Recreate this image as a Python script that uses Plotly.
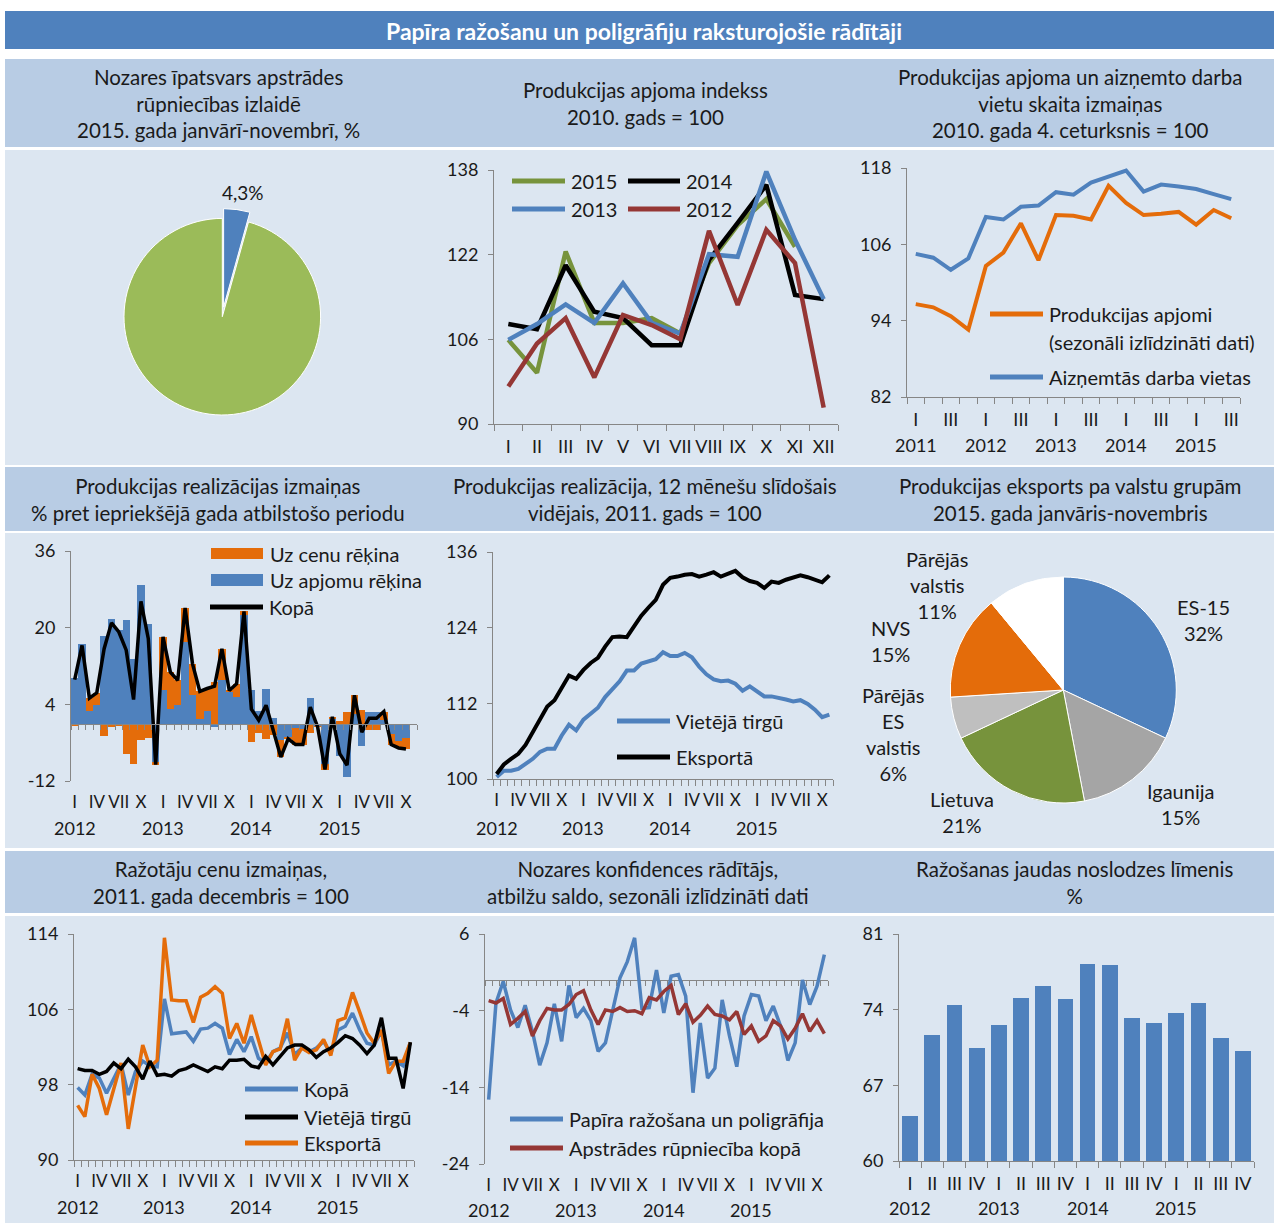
import plotly.graph_objects as go

W, H = 1274, 1223
def PX(x): return x / W
def PY(y): return 1 - y / H

FONT = "Lato"
TXT = "#1a1a1a"
AXC = "#868686"
BLUE = "#4F81BD"
GREEN_L = "#9BBB59"
GREEN_D = "#77933C"
RED_D = "#953735"
ORANGE = "#E46C0A"
BLACK = "#000000"

# ---------------- DATA ----------------
# Panel 1: share in manufacturing output
share_labels = ["Papīra ražošana un poligrāfija", "Pārējā apstrādes rūpniecība"]
share_values = [4.3, 95.7]

# Panel 2: production volume index by month
months12 = ["I", "II", "III", "IV", "V", "VI", "VII", "VIII", "IX", "X", "XI", "XII"]
idx_2015 = [105.9, 99.7, 122.6, 109.1, 109.1, 110.0, 107.1, 120.4, 127.6, 132.5, 123.5]
idx_2014 = [108.9, 107.9, 120.0, 111.2, 110.0, 104.9, 104.9, 121.0, 128.0, 135.2, 114.4, 113.6]
idx_2013 = [105.9, 108.9, 112.6, 109.1, 116.6, 109.1, 107.1, 122.1, 121.6, 137.7, 124.8, 113.6]
idx_2012 = [97.1, 105.2, 110.0, 98.8, 110.6, 108.7, 106.0, 126.5, 112.5, 126.7, 120.4, 93.1]
p2_ticks = [90, 106, 122, 138]

# Panel 3: quarterly production and employment (2011 Q1 - 2015 Q3)
quarters4 = ["I", "II", "III", "IV"]
q_years = [2011, 2012, 2013, 2014, 2015]
prod_sa = [96.6, 96.1, 94.7, 92.6, 102.6, 104.7, 109.3, 103.5, 110.6, 110.5, 109.9, 115.2,
           112.5, 110.6, 110.8, 111.1, 109.1, 111.4, 110.1]
jobs = [104.5, 103.9, 102.0, 103.8, 110.3, 109.9, 111.9, 112.1, 114.2, 113.8, 115.7, 116.6,
        117.6, 114.3, 115.4, 115.1, 114.7, 113.9, 113.1]
p3_ticks = [82, 94, 106, 118]

# Monthly series 2012 I - 2015 XI
m_years = [2012, 2013, 2014, 2015]
# Panel 4: sales change, % y/y
sales_total = [9.15, 16.3, 5.3, 6.4, 15.6, 21.0, 19.1, 15.3, 5.0, 25.5, 17.7, -8.6,
               18.1, 10.7, 9.0, 24.1, 12.5, 6.7, 7.3, 7.8, 15.6, 6.9, 8.3, 23.4,
               3.0, 0.7, 3.8, -1.4, -7.0, -3.2, -4.4, -4.4, 3.4, -0.7, -9.6, 1.4,
               -6.3, -8.7, 5.9, -1.8, 1.1, 1.1, 2.5, -4.4, -5.1, -5.3, None]
sales_volume = [9.6, 16.5, 2.7, 3.9, 18.2, 21.8, 19.6, 21.6, 13.5, 29.0, 20.8, -8.0,
                7.0, 3.1, 3.9, 17.0, 5.9, 1.0, 2.7, -0.8, 9.0, 6.6, 5.5, 22.6,
                6.9, 2.7, 7.1, 1.1, -3.5, -2.8, -1.0, -1.2, 5.3, -0.5, -8.5, 1.0,
                -6.8, -11.2, 2.0, -4.7, 2.4, 2.5, 0.7, -2.2, -3.7, -3.0, None]
sales_price = [-0.45, -0.2, 2.6, 2.5, -2.6, -0.8, -0.5, -6.3, -8.5, -3.5, -3.1, -0.6,
               11.1, 7.6, 5.1, 7.1, 6.6, 5.7, 4.6, 8.6, 6.6, 0.3, 2.8, 0.8,
               -3.9, -2.0, -3.3, -2.5, -3.5, -0.4, -3.4, -3.2, -1.9, -0.2, -1.1, 0.4,
               0.5, 2.5, 3.9, 2.9, -1.3, -1.4, 1.8, -2.2, -1.4, -2.3, None]
p4_ticks = [-12, 4, 20, 36]

# Panel 5: 12-month moving average of sales, 2011 = 100
ma_domestic = [100.3, 101.3, 101.3, 101.6, 102.4, 103.2, 104.3, 104.8, 104.8, 106.9, 108.6, 107.7,
               109.4, 110.4, 111.3, 113.0, 114.2, 115.5, 117.2, 117.2, 118.3, 118.7, 119.0, 120.1,
               119.5, 119.5, 120.0, 119.3, 117.8, 116.6, 115.8, 115.5, 115.6, 115.1, 114.0, 114.7,
               113.9, 113.1, 113.1, 112.9, 112.6, 112.3, 112.5, 111.9, 111.0, 109.8, 110.2]
ma_export = [100.8, 102.3, 103.2, 104.0, 105.4, 107.5, 109.4, 111.5, 112.5, 114.6, 116.4, 115.9,
             117.3, 118.4, 119.2, 121.0, 122.5, 122.6, 122.5, 124.2, 125.9, 127.2, 128.4, 130.8,
             131.9, 132.1, 132.4, 132.5, 132.1, 132.4, 132.8, 132.1, 132.6, 133.0, 132.0, 131.4,
             131.1, 130.3, 131.3, 131.1, 131.6, 132.0, 132.3, 132.0, 131.6, 131.2, 132.3]
p5_ticks = [100, 112, 124, 136]

# Panel 6: exports by country group, 2015 Jan-Nov
exp_labels = ["ES-15", "Igaunija", "Lietuva", "Pārējās<br>ES<br>valstis", "NVS", "Pārējās<br>valstis"]
exp_values = [32, 15, 21, 6, 15, 11]

# Panel 7: producer prices, Dec 2011 = 100
pp_total = [97.7, 96.9, 99.1, 98.7, 97.1, 98.7, 100.2, 96.9, 99.4, 100.5, 100.0, 99.9,
            107.1, 103.4, 103.5, 103.6, 102.6, 103.9, 104.0, 104.5, 104.0, 101.2, 102.8, 101.5,
            103.1, 100.8, 100.3, 101.5, 101.9, 103.5, 101.2, 101.9, 101.5, 101.9, 102.6, 101.3,
            103.8, 104.2, 105.6, 103.8, 102.4, 102.2, 103.7, 100.1, 100.5, 100.0, 102.5]
pp_domestic = [99.7, 99.5, 99.5, 99.1, 99.4, 100.3, 99.7, 100.7, 99.9, 98.6, 100.5, 99.0,
               99.1, 98.9, 99.5, 99.7, 100.1, 99.7, 99.4, 99.9, 99.7, 100.6, 100.6, 100.7,
               100.0, 99.8, 101.0, 100.1, 101.0, 101.9, 102.2, 102.2, 101.7, 100.9, 101.5, 101.9,
               102.5, 103.2, 102.9, 102.2, 101.3, 102.2, 105.1, 100.8, 100.8, 97.6, 102.5]
pp_export = [95.8, 94.6, 99.1, 97.6, 94.8, 97.6, 100.3, 93.3, 98.0, 102.2, 99.9, 100.6,
             113.6, 107.0, 106.9, 106.9, 104.6, 107.3, 107.7, 108.4, 107.7, 102.9, 104.5, 102.4,
             105.4, 102.9, 100.1, 101.5, 101.8, 105.0, 100.6, 101.9, 101.4, 101.7, 102.8, 101.1,
             104.8, 105.1, 107.8, 105.7, 103.5, 102.4, 103.8, 99.2, 100.5, 100.5, 102.5]
p7_ticks = [90, 98, 106, 114]

# Panel 8: confidence indicator, balance
conf_paper = [-15.6, -3.0, -0.2, -3.9, -6.2, -3.3, -6.7, -11.1, -8.2, -3.1, -8.0, -0.7,
              -4.9, -3.7, -5.3, -9.3, -8.2, -4.1, 0.3, 2.4, 5.5, -3.7, -3.6, 1.3,
              -4.3, 0.5, 0.7, -2.1, -14.7, -5.6, -12.8, -11.5, -2.6, -7.3, -11.3, -4.7,
              -1.9, -2.1, -5.3, -3.4, -6.0, -10.5, -8.2, 0.0, -3.2, -0.8, 3.3]
conf_manuf = [-2.7, -3.0, -2.4, -5.8, -5.0, -4.1, -7.3, -5.3, -3.7, -3.9, -3.9, -3.2,
              -1.9, -1.4, -3.9, -5.8, -3.9, -4.1, -3.6, -4.1, -4.0, -4.4, -2.3, -2.6,
              -1.5, -0.7, -4.5, -3.1, -5.5, -4.6, -3.4, -4.5, -4.7, -5.2, -4.1, -7.1,
              -6.0, -8.0, -7.3, -5.3, -6.0, -7.7, -6.3, -4.4, -6.7, -5.3, -7.0]
p8_ticks = [-24, -14, -4, 6]

# Panel 9: capacity utilisation, %
cap_util = [64.2, 71.7, 74.4, 70.5, 72.6, 75.1, 76.2, 75.0, 78.2, 78.1, 73.2, 72.8, 73.7, 74.6, 71.4, 70.2]
p9_ticks = [60, 67, 74, 81]

# ---------------- HELPERS ----------------
shapes, annotations = [], []
HDR = 20.5
LEG = 20

def rect(x0, y0, x1, y1, color, layer="below"):
    shapes.append(dict(type="rect", xref="paper", yref="paper", x0=PX(x0), x1=PX(x1),
                       y0=PY(y1), y1=PY(y0), fillcolor=color, line=dict(width=0), layer=layer))

def text(x, y, t, size=HDR, color=TXT, xanchor="center", bold=False):
    if bold:
        t = "<b>" + t + "</b>"
    annotations.append(dict(xref="paper", yref="paper", x=PX(x), y=PY(y), text=t, showarrow=False,
                            xanchor=xanchor, yanchor="middle", align="center",
                            font=dict(family=FONT, size=size, color=color)))

def leg_line(x0, x1, y, color, t, width=5):
    shapes.append(dict(type="line", xref="paper", yref="paper", x0=PX(x0), x1=PX(x1),
                       y0=PY(y), y1=PY(y), line=dict(color=color, width=width)))
    text(x1 + 4, y, t, size=LEG, xanchor="left")

def leg_box(x0, x1, y0, y1, color, t):
    rect(x0, y0, x1, y1, color, layer="above")
    text(x1 + 5, (y0 + y1) / 2, t, size=LEG, xanchor="left")

def xcat(n, x0, x1, anchor, tickvals, ticktext, showline=True, standoff=6, fsize=18):
    return dict(domain=[PX(x0), PX(x1)], anchor=anchor, range=[-0.5, n - 0.5],
                showgrid=False, zeroline=False, showline=showline, linecolor=AXC, linewidth=1,
                tickmode="array", tickvals=tickvals, ticktext=ticktext, tickangle=0,
                ticks="outside", ticklen=0, tickcolor=AXC,
                ticklabelstandoff=standoff, automargin=False,
                tickfont=dict(family=FONT, size=fsize, color=TXT),
                minor=dict(tickmode="array", tickvals=[i - 0.5 for i in range(n + 1)],
                           ticks="outside" if showline else "", ticklen=6, tickcolor=AXC, tickwidth=1),
                fixedrange=True)

def ylin(ticks, y0, y1, anchor):
    return dict(domain=[PY(y1), PY(y0)], anchor=anchor, range=[ticks[0], ticks[-1]],
                tickmode="array", tickvals=ticks, ticktext=[str(t) for t in ticks],
                showgrid=False, zeroline=False, showline=True, linecolor=AXC, linewidth=1,
                ticks="outside", ticklen=5, tickcolor=AXC, ticklabelstandoff=6, automargin=False,
                tickfont=dict(family=FONT, size=18, color=TXT), fixedrange=True)

def zero_axis(n, overlay, ypos):
    return dict(overlaying=overlay, anchor="free", position=PY(ypos), range=[-0.5, n - 0.5],
                showgrid=False, zeroline=False, showline=True, linecolor=AXC, linewidth=1,
                tickmode="array", tickvals=[], ticks="outside", ticklen=0, showticklabels=False,
                automargin=False,
                minor=dict(tickmode="array", tickvals=[i - 0.5 for i in range(n + 1)],
                           ticks="outside", ticklen=5, tickcolor=AXC, tickwidth=1),
                fixedrange=True)

def year_labels(xref, positions, years, ypx):
    for p, yv in zip(positions, years):
        annotations.append(dict(xref=xref, yref="paper", x=p, y=PY(ypx), text=str(yv),
                                showarrow=False, xanchor="center", yanchor="middle",
                                font=dict(family=FONT, size=18, color=TXT)))

# ---------------- BACKGROUND ----------------
rect(5, 11, 1274, 49, BLUE)
for (a, b) in [(59, 147), (467, 531), (851, 913)]:
    rect(5, a, 1274, b, "#B8CCE4")
for (a, b) in [(150, 465), (533, 848), (916, 1223)]:
    rect(5, a, 1274, b, "#DCE6F1")

text(644, 31, "Papīra ražošanu un poligrāfiju raksturojošie rādītāji", size=23, color="#FFFFFF", bold=True)

text(219, 103, "Nozares īpatsvars apstrādes<br>rūpniecības izlaidē<br>2015. gada janvārī-novembrī, %")
text(645, 104, "Produkcijas apjoma indekss<br>2010. gads = 100")
text(1070, 103, "Produkcijas apjoma un aizņemto darba<br>vietu skaita izmaiņas<br>2010. gada 4. ceturksnis = 100")
text(218, 499, "Produkcijas realizācijas izmaiņas<br>% pret iepriekšējā gada atbilstošo periodu")
text(645, 499, "Produkcijas realizācija, 12 mēnešu slīdošais<br>vidējais, 2011. gads = 100")
text(1070, 499, "Produkcijas eksports pa valstu grupām<br>2015. gada janvāris-novembris")
text(221, 882, "Ražotāju cenu izmaiņas,<br>2011. gada decembris = 100")
text(648, 882, "Nozares konfidences rādītājs,<br>atbilžu saldo, sezonāli izlīdzināti dati")
text(1074, 882, "Ražošanas jaudas noslodzes līmenis<br>%")

fig = go.Figure()

# ---------------- PANEL 1: pie ----------------
pull = 0.1
r1 = 98.3 * (1 + pull)
cx1, cy1 = 222.3, 316.7
fig.add_trace(go.Pie(labels=share_labels, values=share_values, sort=False, direction="clockwise",
                     rotation=0, pull=[pull, 0], marker=dict(colors=[BLUE, GREEN_L], line=dict(color="#FFFFFF", width=1)),
                     textinfo="none", hoverinfo="skip", showlegend=False, automargin=False,
                     domain=dict(x=[PX(cx1 - r1), PX(cx1 + r1)], y=[PY(cy1 + r1), PY(cy1 - r1)])))
text(243, 192, f"{share_values[0]:.1f}%".replace(".", ","), size=19)

# ---------------- PANEL 2: monthly index ----------------
for series, col in [(idx_2015, GREEN_D), (idx_2014, BLACK), (idx_2013, BLUE), (idx_2012, RED_D)]:
    fig.add_trace(go.Scatter(x=list(range(len(series))), y=series, mode="lines",
                             line=dict(color=col, width=4.5), xaxis="x", yaxis="y",
                             showlegend=False, hoverinfo="skip"))
leg_line(512, 565, 181, GREEN_D, "2015")
leg_line(628, 680, 181, BLACK, "2014")
leg_line(512, 565, 209, BLUE, "2013")
leg_line(628, 680, 209, RED_D, "2012")

# ---------------- PANEL 3: quarterly ----------------
nq = len(prod_sa)
fig.add_trace(go.Scatter(x=list(range(nq)), y=jobs, mode="lines", line=dict(color=BLUE, width=4),
                         xaxis="x2", yaxis="y2", showlegend=False, hoverinfo="skip"))
fig.add_trace(go.Scatter(x=list(range(nq)), y=prod_sa, mode="lines", line=dict(color=ORANGE, width=4),
                         xaxis="x2", yaxis="y2", showlegend=False, hoverinfo="skip"))
leg_line(990, 1043, 314, ORANGE, "Produkcijas apjomi")
text(1047, 342, "(sezonāli izlīdzināti dati)", size=LEG, xanchor="left")
leg_line(990, 1043, 377, BLUE, "Aizņemtās darba vietas")
year_labels("x2", [4 * i for i in range(len(q_years))], q_years, 445)

# ---------------- PANEL 4: sales change bars ----------------
nm = len(sales_total)
xm = list(range(nm))
fig.add_trace(go.Bar(x=xm, y=sales_volume, width=1.0, marker=dict(color=BLUE, line=dict(width=0)),
                     xaxis="x3", yaxis="y3", showlegend=False, hoverinfo="skip"))
fig.add_trace(go.Bar(x=xm, y=sales_price, width=1.0, marker=dict(color=ORANGE, line=dict(width=0)),
                     xaxis="x3", yaxis="y3", showlegend=False, hoverinfo="skip"))
fig.add_trace(go.Scatter(x=xm, y=sales_total, mode="lines", line=dict(color=BLACK, width=3.5),
                         xaxis="x8", yaxis="y3", showlegend=False, hoverinfo="skip"))
leg_box(211, 263, 548, 559, ORANGE, "Uz cenu rēķina")
leg_box(211, 263, 574, 586, BLUE, "Uz apjomu rēķina")
leg_line(210, 263, 607, BLACK, "Kopā")

mon_vals = [i for i in range(nm) if i % 3 == 0]
mon_text = [months12[i % 12] for i in mon_vals]
jan_pos = [12 * i for i in range(len(m_years))]
year_labels("x3", jan_pos, m_years, 828)

# ---------------- PANEL 5: moving averages ----------------
n5 = len(ma_export)
fig.add_trace(go.Scatter(x=list(range(n5)), y=ma_domestic, mode="lines", line=dict(color=BLUE, width=4),
                         xaxis="x4", yaxis="y4", showlegend=False, hoverinfo="skip"))
fig.add_trace(go.Scatter(x=list(range(n5)), y=ma_export, mode="lines", line=dict(color=BLACK, width=4),
                         xaxis="x4", yaxis="y4", showlegend=False, hoverinfo="skip"))
leg_line(617, 670, 721, BLUE, "Vietējā tirgū")
leg_line(617, 670, 757, BLACK, "Eksportā")
year_labels("x4", jan_pos, m_years, 828)

# ---------------- PANEL 6: export pie ----------------
cx6, cy6, r6 = 1063.3, 690, 113
fig.add_trace(go.Pie(labels=exp_labels, values=exp_values, sort=False, direction="clockwise", rotation=0,
                     marker=dict(colors=[BLUE, "#A5A5A5", GREEN_D, "#BFBFBF", ORANGE, "#FFFFFF"],
                                 line=dict(color="#FFFFFF", width=1)),
                     textinfo="none", hoverinfo="skip", showlegend=False, automargin=False,
                     domain=dict(x=[PX(cx6 - r6), PX(cx6 + r6)], y=[PY(cy6 + r6), PY(cy6 - r6)])))
exp_label_pos = [(1203, 620), (1180, 804), (962, 812), (893, 734), (890, 641), (937, 585)]
for lab, val, (lx, ly) in zip(exp_labels, exp_values, exp_label_pos):
    text(lx, ly, f"{lab}<br>{val}%", size=LEG)

# ---------------- PANEL 7: producer prices ----------------
n7 = len(pp_total)
for series, col in [(pp_total, BLUE), (pp_export, ORANGE), (pp_domestic, BLACK)]:
    fig.add_trace(go.Scatter(x=list(range(n7)), y=series, mode="lines", line=dict(color=col, width=3.5),
                             xaxis="x5", yaxis="y5", showlegend=False, hoverinfo="skip"))
leg_line(245, 298, 1089, BLUE, "Kopā")
leg_line(245, 298, 1117, BLACK, "Vietējā tirgū")
leg_line(245, 298, 1143, ORANGE, "Eksportā")
year_labels("x5", jan_pos, m_years, 1207)

# ---------------- PANEL 8: confidence ----------------
n8 = len(conf_paper)
fig.add_trace(go.Scatter(x=[], y=[], xaxis="x6", yaxis="y6", showlegend=False, hoverinfo="skip"))
fig.add_trace(go.Scatter(x=list(range(n8)), y=conf_paper, mode="lines", line=dict(color=BLUE, width=3.5),
                         xaxis="x9", yaxis="y6", showlegend=False, hoverinfo="skip"))
fig.add_trace(go.Scatter(x=list(range(n8)), y=conf_manuf, mode="lines", line=dict(color=RED_D, width=3.5),
                         xaxis="x9", yaxis="y6", showlegend=False, hoverinfo="skip"))
leg_line(510, 563, 1119, BLUE, "Papīra ražošana un poligrāfija")
leg_line(510, 563, 1148, RED_D, "Apstrādes rūpniecība kopā")
year_labels("x6", jan_pos, m_years, 1210)

# ---------------- PANEL 9: capacity utilisation ----------------
n9 = len(cap_util)
fig.add_trace(go.Bar(x=list(range(n9)), y=cap_util, width=0.71, marker=dict(color=BLUE, line=dict(width=0)),
                     xaxis="x7", yaxis="y7", showlegend=False, hoverinfo="skip"))
year_labels("x7", [4 * i for i in range(4)], m_years, 1208)

# ---------------- AXES ----------------
p4_zero = 551 + (p4_ticks[-1] - 0) / (p4_ticks[-1] - p4_ticks[0]) * (781 - 551)
p8_zero = 934 + (p8_ticks[-1] - 0) / (p8_ticks[-1] - p8_ticks[0]) * (1164 - 934)

layout_axes = dict(
    xaxis=xcat(12, 494, 838, "y", list(range(12)), months12),
    yaxis=ylin(p2_ticks, 170, 424, "x"),
    xaxis2=xcat(nq, 907, 1240, "y2", [i for i in range(nq) if i % 2 == 0],
                [quarters4[i % 4] for i in range(nq) if i % 2 == 0]),
    yaxis2=ylin(p3_ticks, 168, 397, "x2"),
    xaxis3=xcat(nm, 71, 417, "y3", mon_vals, mon_text, showline=False, fsize=17),
    yaxis3=ylin(p4_ticks, 551, 781, "x3"),
    xaxis4=xcat(n5, 493, 833, "y4", mon_vals, mon_text, fsize=17),
    yaxis4=ylin(p5_ticks, 552, 779, "x4"),
    xaxis5=xcat(n7, 74, 414, "y5", mon_vals, mon_text, fsize=17),
    yaxis5=ylin(p7_ticks, 934, 1160, "x5"),
    xaxis6=xcat(n8, 485, 828, "y6", mon_vals, mon_text, showline=False, fsize=17),
    yaxis6=ylin(p8_ticks, 934, 1164, "x6"),
    xaxis7=xcat(n9, 899, 1254, "y7", list(range(n9)), [quarters4[i % 4] for i in range(n9)]),
    yaxis7=ylin(p9_ticks, 934, 1161, "x7"),
    xaxis8=zero_axis(nm, "x3", p4_zero),
    xaxis9=zero_axis(n8, "x6", p8_zero),
)
layout_axes["xaxis9"]["layer"] = "below traces"

fig.update_layout(
    width=W, height=H, autosize=False,
    margin=dict(l=0, r=0, t=0, b=0, pad=0, autoexpand=False),
    paper_bgcolor="#FFFFFF", plot_bgcolor="rgba(0,0,0,0)",
    font=dict(family=FONT, size=18, color=TXT),
    barmode="relative", bargap=0,
    showlegend=False,
    shapes=shapes, annotations=annotations,
    **layout_axes,
)

fig.write_html("out.html", config={"displayModeBar": False, "staticPlot": True},
               post_script="document.body.style.margin='0px';document.body.style.overflow='hidden';")
